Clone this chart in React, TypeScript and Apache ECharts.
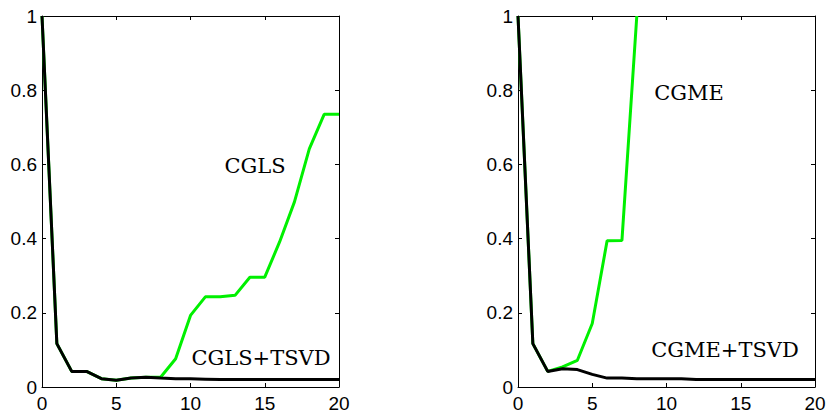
import React, { useEffect, useRef } from "react";
import * as echarts from "echarts";

const iterations = [0, 1, 2, 3, 4, 5, 6, 7, 8, 9, 10, 11, 12, 13, 14, 15, 16, 17, 18, 19, 20];

const cgls = [1.0, 0.117, 0.042, 0.042, 0.0225, 0.018, 0.024, 0.026, 0.027, 0.076, 0.193, 0.243, 0.243, 0.247, 0.296, 0.296, 0.391, 0.499, 0.642, 0.735, 0.735];
const cglsTsvd = [1.0, 0.117, 0.042, 0.042, 0.0225, 0.018, 0.024, 0.026, 0.024, 0.0225, 0.022, 0.021, 0.02, 0.02, 0.02, 0.02, 0.02, 0.02, 0.02, 0.02, 0.02];

const cgmeIter = [0, 1, 2, 3, 4, 5, 6, 7, 8];
const cgme = [1.0, 0.117, 0.042, 0.054, 0.072, 0.171, 0.394, 0.395, 1.0];
const cgmeTsvd = [1.0, 0.117, 0.042, 0.049, 0.047, 0.034, 0.024, 0.024, 0.022, 0.022, 0.022, 0.022, 0.02, 0.02, 0.02, 0.02, 0.02, 0.02, 0.02, 0.02, 0.02];

const xTicks = { min: 0, max: 20, interval: 5 };
const yTicks = { min: 0, max: 1, interval: 0.2 };

const labels = [
  { text: "CGLS", x: 255, y: 166 },
  { text: "CGLS+TSVD", x: 261, y: 358 },
  { text: "CGME", x: 689, y: 93 },
  { text: "CGME+TSVD", x: 725, y: 350 },
];

const GREEN = "#00f000";
const BLACK = "#000000";

export default function App() {
  const ref = useRef<HTMLDivElement>(null);
  useEffect(() => {
    if (!ref.current) return;
    const chart = echarts.init(ref.current, null, { renderer: "svg" });
    const grids = [
      { left: 42, top: 16, width: 297, height: 371 },
      { left: 518, top: 16, width: 297, height: 371 },
    ];
    const labelStyle = { fontFamily: "'Liberation Sans', Arial, sans-serif", fontSize: 19, color: "#000" };
    const xAxes: any[] = [];
    const yAxes: any[] = [];
    [0, 1].forEach((g) => {
      xAxes.push({
        type: "value", gridIndex: g, position: "bottom", ...xTicks,
        axisLine: { show: true, onZero: false, lineStyle: { color: "#000", width: 1 } },
        axisTick: { show: true, inside: true, length: 4, lineStyle: { color: "#000" } },
        axisLabel: { ...labelStyle, margin: 7 },
        splitLine: { show: false },
      });
      xAxes.push({
        type: "value", gridIndex: g, position: "top", ...xTicks,
        axisLine: { show: true, onZero: false, lineStyle: { color: "#000", width: 1 } },
        axisTick: { show: true, inside: true, length: 4, lineStyle: { color: "#000" } },
        axisLabel: { show: false },
        splitLine: { show: false },
      });
      yAxes.push({
        type: "value", gridIndex: g, position: "left", ...yTicks,
        axisLine: { show: true, onZero: false, lineStyle: { color: "#000", width: 1 } },
        axisTick: { show: true, inside: true, length: 4, lineStyle: { color: "#000" } },
        axisLabel: { ...labelStyle, margin: 5 },
        splitLine: { show: false },
      });
      yAxes.push({
        type: "value", gridIndex: g, position: "right", ...yTicks,
        axisLine: { show: true, onZero: false, lineStyle: { color: "#000", width: 1 } },
        axisTick: { show: true, inside: true, length: 4, lineStyle: { color: "#000" } },
        axisLabel: { show: false },
        splitLine: { show: false },
      });
    });
    const mk = (name: string, xs: number[], ys: number[], g: number, color: string) => ({
      name,
      type: "line",
      xAxisIndex: g * 2,
      yAxisIndex: g * 2,
      data: xs.map((x, i) => [x, ys[i]]),
      showSymbol: false,
      symbol: "none",
      clip: true,
      lineStyle: { color, width: 3 },
      z: color === BLACK ? 3 : 2,
    });
    chart.setOption({
      animation: false,
      backgroundColor: "#fff",
      grid: grids,
      xAxis: xAxes,
      yAxis: yAxes,
      series: [
        mk("CGLS", iterations, cgls, 0, GREEN),
        mk("CGLS+TSVD", iterations, cglsTsvd, 0, BLACK),
        mk("CGME", cgmeIter, cgme, 1, GREEN),
        mk("CGME+TSVD", iterations, cgmeTsvd, 1, BLACK),
      ],
      graphic: labels.map((l) => ({
        type: "text",
        x: l.x,
        y: l.y,
        style: {
          text: l.text,
          fontFamily: "DejaVu Serif",
          fontSize: 21,
          fill: "#000",
          align: "center",
          verticalAlign: "middle",
        },
      })),
    });
    return () => chart.dispose();
  }, []);
  return <div ref={ref} style={{ width: 830, height: 413, position: "absolute", left: 0, top: 0 }} />;
}
